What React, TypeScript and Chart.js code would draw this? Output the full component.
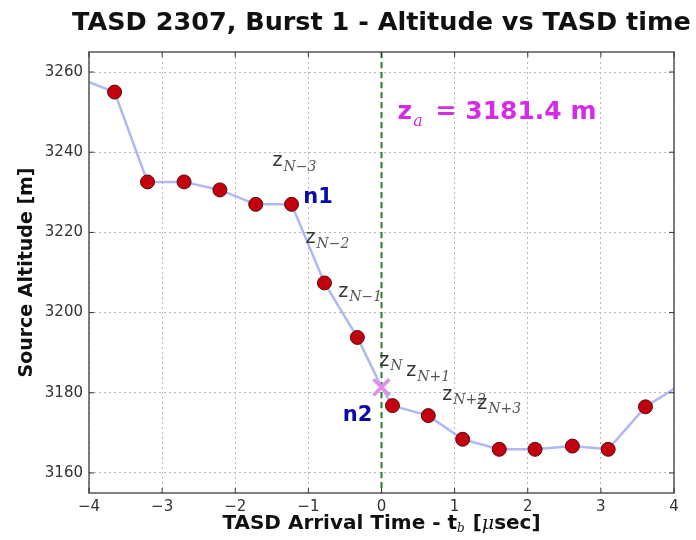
import React, { useEffect, useRef } from "react";
import { Chart, registerables } from "chart.js";

Chart.register(...registerables);

const timeValues = [-3.65, -3.2, -2.7, -2.21, -1.72, -1.23, -0.78, -0.33, 0.15, 0.64, 1.11, 1.61, 2.1, 2.61, 3.1, 3.61];
const altitudeValues = [3255, 3232.6, 3232.6, 3230.6, 3227, 3227, 3207.4, 3193.8, 3176.8, 3174.3, 3168.4, 3165.9, 3165.9, 3166.7, 3165.9, 3176.5];
// neighbouring points just outside the visible window (line only)
const edgeTimes = [-4.14, 4.1];
const edgeAltitudes = [3258.5, 3182.1];
const arrivalTime = 0;
const arrivalAltitude = 3181.4;
const xTicks = [-4, -3, -2, -1, 0, 1, 2, 3, 4];
const yTicks = [3160, 3180, 3200, 3220, 3240, 3260];
const labelNames = ["N−3", "N−2", "N−1", "N", "N+1", "N+2", "N+3"];
const labelX = [-1.49, -1.04, -0.59, -0.03, 0.34, 0.83, 1.31];
const labelY = [3237.8, 3218.5, 3205.2, 3188, 3185.4, 3179.5, 3177.3];
const markerNames = ["n1", "n2"];
const markerX = [-1.07, -0.53];
const markerY = [3228.6, 3174.3];
const resultText = "= 3181.4 m";
const resultX = 0.22;
const resultY = 3249.9;
const titleText = "TASD 2307, Burst 1 - Altitude vs TASD time";

export default function App() {
  const ref = useRef<HTMLCanvasElement | null>(null);
  useEffect(() => {
    if (!ref.current) return;
    const linePts = [
      { x: edgeTimes[0], y: edgeAltitudes[0] },
      ...timeValues.map((t, i) => ({ x: t, y: altitudeValues[i] })),
      { x: edgeTimes[1], y: edgeAltitudes[1] },
    ];
    linePts.splice(9, 0, { x: arrivalTime, y: arrivalAltitude });
    const overlay = {
      id: "overlay",
      beforeDatasetsDraw(chart: any) {
        const { ctx, chartArea: a, scales } = chart;
        const xs = scales.x;
        ctx.save();
        ctx.strokeStyle = "#2a7f2a";
        ctx.lineWidth = 2;
        ctx.setLineDash([6, 4]);
        const px = xs.getPixelForValue(arrivalTime);
        ctx.beginPath();
        ctx.moveTo(px, a.top);
        ctx.lineTo(px, a.bottom);
        ctx.stroke();
        ctx.restore();
      },
      afterDraw(chart: any) {
        const { ctx, chartArea: a, scales } = chart;
        const xs = scales.x, ys = scales.y;
        ctx.save();
        // frame
        ctx.strokeStyle = "#555";
        ctx.lineWidth = 1.5;
        ctx.strokeRect(a.left, a.top, a.right - a.left, a.bottom - a.top);
        // ticks inside
        ctx.lineWidth = 1;
        ctx.strokeStyle = "#333";
        xTicks.forEach((v) => {
          const p = xs.getPixelForValue(v);
          ctx.beginPath();
          ctx.moveTo(p, a.bottom); ctx.lineTo(p, a.bottom - 5);
          ctx.moveTo(p, a.top); ctx.lineTo(p, a.top + 5);
          ctx.stroke();
        });
        yTicks.forEach((v) => {
          const p = ys.getPixelForValue(v);
          ctx.beginPath();
          ctx.moveTo(a.left, p); ctx.lineTo(a.left + 5, p);
          ctx.moveTo(a.right, p); ctx.lineTo(a.right - 5, p);
          ctx.stroke();
        });
        // arrival X marker
        const mx = xs.getPixelForValue(arrivalTime);
        const my = ys.getPixelForValue(arrivalAltitude);
        ctx.strokeStyle = "#e08ce8";
        ctx.lineWidth = 3.5;
        ctx.beginPath();
        ctx.moveTo(mx - 8, my - 8); ctx.lineTo(mx + 8, my + 8);
        ctx.moveTo(mx + 8, my - 8); ctx.lineTo(mx - 8, my + 8);
        ctx.stroke();
        // z labels
        ctx.textBaseline = "middle";
        ctx.textAlign = "left";
        labelNames.forEach((n, i) => {
          const x = xs.getPixelForValue(labelX[i]);
          const y = ys.getPixelForValue(labelY[i]);
          ctx.fillStyle = "#333";
          ctx.font = "19px 'DejaVu Sans'";
          ctx.fillText("z", x, y);
          const w = ctx.measureText("z").width;
          ctx.fillStyle = "#555";
          ctx.font = "italic 14px 'DejaVu Serif'";
          ctx.fillText(n, x + w + 1, y + 6);
        });
        // n1, n2
        ctx.fillStyle = "#0a0aa8";
        ctx.font = "bold 21px 'DejaVu Sans'";
        markerNames.forEach((n, i) => {
          ctx.fillText(n, xs.getPixelForValue(markerX[i]), ys.getPixelForValue(markerY[i]));
        });
        // z_a result
        const rx = xs.getPixelForValue(resultX);
        const ry = ys.getPixelForValue(resultY);
        ctx.fillStyle = "#d52be6";
        ctx.font = "bold 25px 'DejaVu Sans'";
        ctx.fillText("z", rx, ry);
        const zw = ctx.measureText("z").width;
        ctx.font = "italic 16px 'DejaVu Serif'";
        ctx.fillText("a", rx + zw + 1, ry + 9);
        ctx.font = "bold 25px 'DejaVu Sans'";
        ctx.fillText(resultText, rx + 38, ry);
        // title
        ctx.fillStyle = "#111";
        ctx.textAlign = "center";
        ctx.font = "bold 25.5px 'DejaVu Sans'";
        ctx.fillText(titleText, (a.left + a.right) / 2, 23);
        // x axis title
        const F = "bold 20px 'DejaVu Sans'";
        ctx.font = F;
        const p1 = "TASD Arrival Time - t";
        const p2 = " [";
        const p3 = "μ";
        const p4 = "sec]";
        ctx.textAlign = "left";
        const w1 = ctx.measureText(p1).width;
        ctx.font = "italic 12px 'DejaVu Serif'";
        const wb = ctx.measureText("b").width;
        ctx.font = F;
        const w2 = ctx.measureText(p2).width;
        ctx.font = "italic 19px 'DejaVu Serif'";
        const w3 = ctx.measureText(p3).width;
        ctx.font = F;
        const w4 = ctx.measureText(p4).width;
        const total = w1 + wb + 1 + w2 + w3 + w4;
        let cx = (a.left + a.right) / 2 - total / 2;
        const cy = 524;
        ctx.fillText(p1, cx, cy); cx += w1;
        ctx.font = "italic 12px 'DejaVu Serif'";
        ctx.fillText("b", cx, cy + 5); cx += wb + 1;
        ctx.font = F;
        ctx.fillText(p2, cx, cy); cx += w2;
        ctx.font = "italic 19px 'DejaVu Serif'";
        ctx.fillText(p3, cx, cy); cx += w3;
        ctx.font = F;
        ctx.fillText(p4, cx, cy);
        // y axis title
        ctx.translate(27, (a.top + a.bottom) / 2);
        ctx.rotate(-Math.PI / 2);
        ctx.textAlign = "center";
        ctx.font = "bold 19px 'DejaVu Sans'";
        ctx.fillText("Source Altitude [m]", 0, 0);
        ctx.restore();
      },
    };
    const chart = new Chart(ref.current, {
      type: "scatter",
      data: {
        datasets: [
          {
            data: timeValues.map((t, i) => ({ x: t, y: altitudeValues[i] })),
            showLine: false,
            pointRadius: 7,
            pointBackgroundColor: "#c40010",
            pointBorderColor: "#5a0a0a",
            pointBorderWidth: 1,
            order: 0,
          },
          {
            data: linePts,
            showLine: true,
            borderColor: "rgba(150,160,240,0.75)",
            borderWidth: 2.5,
            pointRadius: 0,
            order: 1,
          },
        ],
      },
      options: {
        animation: false,
        responsive: false,
        events: [],
        layout: { padding: { top: 52, right: 22, left: 0, bottom: 0 } },
        plugins: { legend: { display: false }, tooltip: { enabled: false }, title: { display: false } },
        scales: {
          x: {
            type: "linear",
            min: -4,
            max: 4,
            afterBuildTicks: (s: any) => { s.ticks = xTicks.map((v) => ({ value: v })); },
            afterFit: (s: any) => { s.height = 47; },
            ticks: {
              color: "#333",
              font: { family: "'DejaVu Sans'", size: 15 },
              padding: 5,
              maxRotation: 0,
              callback: (v: any) => String(v).replace("-", "−"),
            },
            grid: { color: "#b8b8b8", drawTicks: false, lineWidth: 1 },
            border: { display: false, dash: [2, 3] },
          },
          y: {
            type: "linear",
            min: 3155,
            max: 3265,
            afterBuildTicks: (s: any) => { s.ticks = yTicks.map((v) => ({ value: v })); },
            afterFit: (s: any) => { s.width = 89; },
            ticks: {
              color: "#333",
              font: { family: "'DejaVu Sans'", size: 15 },
              padding: 6,
              callback: (v: any) => String(v),
            },
            grid: { color: "#b8b8b8", drawTicks: false, lineWidth: 1 },
            border: { display: false, dash: [2, 3] },
          },
        },
      },
      plugins: [overlay],
    });
    return () => chart.destroy();
  }, []);
  return (
    <div style={{ position: "absolute", left: 0, top: 0, width: 696, height: 540, background: "#fff" }}>
      <canvas ref={ref} width={696} height={540} style={{ width: 696, height: 540 }} />
    </div>
  );
}
